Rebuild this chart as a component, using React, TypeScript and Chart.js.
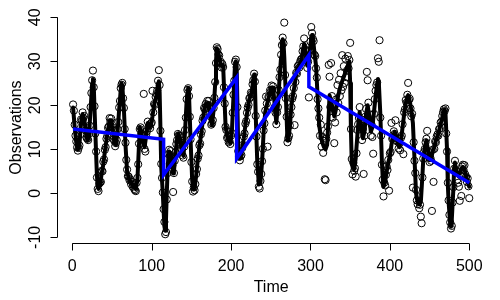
import { useEffect, useRef } from "react";
import { Chart, registerables } from "chart.js";

Chart.register(...registerables);

// Observations, one per time step (Time = 1..500)
const observations: number[] = [
  20.2, 18.8, 15.6, 13.1, 11.8, 10.4, 9.7, 10.3, 10.9, 13.4,
  16.8, 16.5, 18.4, 17.1, 17.6, 15.0, 14.3, 12.6, 12.4, 12.1,
  13.5, 15.4, 19.6, 22.8, 25.7, 27.9, 24.1, 19.8, 13.6, 9.5,
  3.6, 1.0, 0.5, 2.2, 2.5, 2.6, 5.1, 5.0, 7.2, 7.7,
  9.9, 10.5, 12.4, 13.0, 14.9, 15.2, 17.1, 16.2, 17.0, 15.0,
  14.4, 12.3, 11.9, 10.7, 11.4, 12.1, 14.6, 16.2, 19.5, 21.0,
  23.9, 24.7, 25.1, 21.6, 19.4, 14.6, 11.5, 7.6, 5.4, 3.9,
  3.8, 3.0, 3.2, 2.1, 2.6, 1.5, 1.9, 1.0, 0.7, 0.5,
  2.4, 3.5, 6.6, 11.3, 14.6, 15.0, 13.6, 13.1, 11.0, 22.6,
  10.1, 9.5, 13.4, 14.1, 16.3, 15.1, 15.4, 14.8, 15.9, 16.1,
  23.3, 18.4, 20.3, 20.1, 21.9, 22.6, 23.4, 25.6, 28.0, 24.6,
  14.2, 6.7, 3.5, 0.2, -3.6, -6.5, -9.3, -8.8, -1.4, 4.6,
  8.9, 9.9, 8.7, 9.6, 7.1, 6.3, 0.3, 4.6, 7.4, 9.3,
  11.2, 12.1, 13.5, 13.2, 13.1, 11.6, 11.0, 9.9, 8.6, 8.1,
  10.6, 14.4, 17.2, 21.4, 23.5, 23.9, 22.1, 17.4, 12.3, 7.1,
  2.7, 0.4, 1.3, 0.7, 2.1, 4.4, 5.5, 7.9, 8.6, 10.9,
  11.3, 13.4, 14.1, 16.5, 17.2, 19.4, 19.1, 20.3, 19.8, 21.0,
  20.1, 21.0, 18.3, 17.5, 15.6, 15.9, 16.6, 19.4, 21.7, 25.3,
  29.6, 33.2, 32.8, 31.6, 31.3, 29.7, 29.9, 28.6, 29.4, 28.7,
  24.1, 20.4, 15.1, 14.4, 12.6, 12.9, 11.6, 11.9, 11.2, 13.1,
  13.7, 18.3, 22.4, 25.6, 29.9, 30.4, 28.7, 19.6, 9.6, 8.3,
  7.5, 8.4, 8.7, 10.3, 11.0, 12.9, 13.6, 15.8, 16.4, 18.3,
  19.5, 20.1, 21.6, 21.7, 22.9, 22.6, 24.8, 25.7, 27.2, 25.4,
  17.6, 12.9, 6.6, 4.9, 1.5, 1.1, 2.8, 4.4, 7.3, 10.1,
  14.3, 15.9, 18.8, 22.0, 20.4, 10.6, 21.9, 21.8, 23.4, 23.1,
  24.5, 23.6, 24.3, 22.4, 19.6, 18.3, 15.7, 18.4, 19.6, 23.5,
  26.4, 28.1, 31.5, 33.7, 35.4, 34.1, 38.8, 26.9, 21.6, 17.4,
  11.6, 12.5, 13.1, 15.4, 17.9, 19.6, 21.5, 22.1, 23.9, 15.5,
  25.3, 27.4, 27.2, 28.9, 29.1, 28.6, 29.9, 30.4, 30.6, 32.3,
  33.4, 35.2, 32.5, 32.6, 30.1, 28.5, 29.9, 21.8, 32.4, 34.5,
  37.8, 36.4, 35.1, 34.6, 31.5, 31.2, 28.4, 26.3, 21.4, 19.3,
  17.2, 13.1, 15.6, 10.6, 12.8, 9.2, 11.9, 3.2, 3.0, 12.4,
  13.8, 15.2, 29.2, 26.5, 19.6, 29.6, 22.1, 17.2, 20.3, 11.4,
  16.1, 21.3, 18.4, 24.6, 20.5, 25.8, 22.1, 27.3, 23.4, 31.4,
  24.2, 28.9, 25.1, 30.6, 26.4, 27.9, 31.2, 28.4, 30.3, 34.2,
  14.6, 7.8, 4.3, 6.9, 5.1, 5.7, 3.8, 9.1, 14.4, 15.7,
  17.1, 19.6, 15.4, 16.8, 12.1, 14.6, 4.4, 13.1, 17.4, 19.2,
  27.6, 25.7, 20.6, 16.4, 17.9, 13.1, 15.6, 12.8, 9.0, 18.1,
  21.4, 23.3, 24.6, 25.2, 30.7, 29.9, 34.8, 17.2, 13.1, 6.5,
  3.1, -0.7, 2.4, 1.8, 4.2, 6.1, 5.3, 7.6, 0.6, 9.1,
  9.4, 16.0, 12.4, 12.6, 14.1, 13.5, 16.6, 12.1, 11.8, 12.4,
  10.2, 11.3, 9.8, 12.6, 13.1, 15.7, 8.9, 18.4, 19.1, 21.2,
  20.6, 22.4, 25.1, 21.2, 21.5, 19.3, 17.5, 18.1, 1.3, 11.6,
  7.4, 4.6, 0.8, -1.6, -2.5, -0.9, -3.4, -2.6, -5.3, -6.8,
  3.6, 7.9, 9.4, 10.1, 11.6, 12.4, 14.2, 9.6, 8.3, 7.1,
  8.1, 7.4, -4.0, 9.9, 2.6, 10.1, 11.8, 11.6, 12.9, 13.4,
  13.1, 14.6, 14.7, 16.1, 16.3, 17.6, 18.4, 19.1, 18.7, 19.3,
  13.6, 9.5, 2.4, -1.6, -4.9, -6.6, -8.0, -7.4, -2.1, 1.4,
  5.6, 7.4, 5.3, 4.9, 3.1, 2.4, 1.5, -1.7, 4.1, -0.6,
  6.1, 6.5, 5.2, 6.4, 4.3, 3.7, 2.6, 3.4, 1.6, -1.1,
];

// Fitted signal (thick black line), read at key times
const fitTime: number[] = [
  1, 3, 5, 7, 9, 11, 13, 15, 17, 19, 21, 23, 25, 26, 27, 29, 31, 32, 33, 35, 37, 39, 41, 43, 45, 47, 49, 51, 53, 55,
  57, 59, 61, 62, 63, 65, 67, 69, 71, 74, 77, 80, 82, 84, 85, 87, 89, 91, 93, 95, 97, 99, 101, 103, 105, 107, 108, 109, 110, 111,
  112, 114, 115, 116, 117, 118, 119, 120, 121, 122, 124, 126, 127, 128, 130, 132, 134, 136, 138, 140, 142, 144, 146, 147, 149, 151, 152, 154, 156, 158,
  160, 162, 164, 166, 168, 170, 172, 174, 176, 178, 180, 181, 182, 184, 186, 188, 190, 192, 193, 195, 197, 199, 201, 203, 205, 206, 207, 208, 209, 210,
  212, 214, 216, 218, 220, 222, 224, 226, 228, 229, 230, 231, 233, 235, 237, 239, 241, 243, 245, 247, 249, 251, 253, 255, 257, 259, 261, 263, 264, 265,
  266, 267, 269, 271, 272, 274, 276, 278, 280, 282, 284, 286, 288, 290, 292, 294, 296, 298, 300, 302, 303, 305, 307, 309, 311, 313, 315, 317, 319, 321,
  323, 324, 326, 328, 330, 332, 334, 336, 338, 340, 342, 344, 346, 348, 349, 350, 351, 352, 353, 355, 357, 359, 361, 362, 364, 366, 368, 370, 372, 374,
  376, 378, 380, 382, 384, 385, 386, 388, 390, 391, 392, 394, 396, 398, 400, 402, 404, 406, 408, 410, 412, 414, 416, 418, 420, 422, 423, 425, 427, 429,
  431, 433, 435, 437, 439, 441, 442, 444, 446, 448, 450, 452, 454, 456, 457, 459, 461, 463, 465, 467, 469, 470, 472, 473, 474, 476, 477, 478, 480, 481,
  482, 484, 486, 488, 490, 492, 494, 496, 498, 500,
];
const fitValue: number[] = [
  19.5, 15, 11.5, 10, 11, 16, 18, 17, 14, 12, 13, 19, 25, 26, 24.5, 14, 4, 1.5, 1, 2, 4.5, 6.5, 9.5, 12, 14.5, 16.5, 16.5, 14, 11.5, 11,
  14, 19, 23.5, 25, 24.5, 19, 11, 5, 3.5, 2.5, 1.5, 1, 3, 11, 15, 14, 11.5, 10.5, 13, 16, 15, 15.5, 17.5, 20, 21.5, 23, 25, 25.5, 23, 15,
  6, 0, -4, -7.5, -8.5, -6, 0, 5, 8.5, 9.5, 9, 6, 4.5, 5, 9, 12.5, 13.5, 12, 9.5, 8.5, 14, 21, 24, 22.5, 12, 3, 1, 1, 4, 7.5,
  10.5, 13, 16, 19, 20, 20.5, 20.5, 17, 15.5, 19, 25, 30, 33, 32, 30, 29, 29, 20, 15.5, 13, 12, 11.5, 14, 22, 29.5, 30, 29, 20, 10, 8,
  8, 10, 12.5, 15.5, 18, 20.5, 22, 23, 26, 27, 25, 18, 7, 2, 2.5, 7, 14, 18.5, 20, 21.5, 23, 24, 24, 20, 16, 20, 26, 31, 34, 35,
  34.5, 31, 22, 12, 12, 15, 20, 22.5, 24.5, 27, 28.5, 29, 30, 32, 34, 32, 29, 30, 34, 36, 35.5, 32, 29, 22, 15.5, 13, 11.5, 10.5, 10, 11,
  18, 22.3, 21, 19, 17.5, 19, 21.5, 23, 24.5, 25.5, 26.5, 27.5, 28.5, 29.5, 30, 25, 14, 7, 6, 5.5, 8, 13, 17.5, 18.5, 15, 12.5, 14, 18, 20, 17.5,
  14, 15, 18.5, 22, 25, 26, 25.5, 18, 7, 3.5, 1.5, 2.5, 5, 7, 8.5, 11, 13, 14, 13, 11.5, 10.5, 12, 15, 18, 20.5, 22, 22.3, 21, 19, 16,
  8, 0, -2, -2.5, -2, 4, 7.5, 10.5, 12, 10, 7.5, 8, 9.5, 10.5, 11.4, 12.5, 13.5, 15, 16.5, 18, 19, 18.5, 10, 2, -2, -7, -7.6, -6, 1, 6,
  7, 4.6, 4, 4.6, 5.5, 6, 5.5, 4, 2.5, 1.5,
];

// Piecewise linear trend (blue line)
const trendTime: number[] = [1, 115, 115, 207, 207, 298, 298, 500];
const trendValue: number[] = [14.6, 12.3, 4.2, 26.3, 7.9, 31.4, 24.2, 2.4];

const xTicks: number[] = [0, 100, 200, 300, 400, 500];
const yTicks: number[] = [-10, 0, 10, 20, 30, 40];
const xTitle = "Time";
const yTitle = "Observations";

const FONT = '16px "Liberation Sans", Arial, Helvetica, sans-serif';

const rAxesPlugin = {
  id: "rAxes",
  afterDraw(chart: any) {
    const { ctx, chartArea, scales } = chart;
    const xs = scales.x;
    const ys = scales.y;
    ctx.save();
    ctx.strokeStyle = "#000";
    ctx.fillStyle = "#000";
    ctx.lineWidth = 1;

    // x axis
    const yb = Math.round(chartArea.bottom) + 0.5;
    ctx.beginPath();
    ctx.moveTo(xs.getPixelForValue(xTicks[0]), yb);
    ctx.lineTo(xs.getPixelForValue(xTicks[xTicks.length - 1]), yb);
    xTicks.forEach((t) => {
      const px = Math.round(xs.getPixelForValue(t)) + 0.5;
      ctx.moveTo(px, yb);
      ctx.lineTo(px, yb + 7);
    });
    ctx.stroke();
    ctx.font = FONT;
    ctx.textAlign = "center";
    ctx.textBaseline = "alphabetic";
    xTicks.forEach((t) => {
      ctx.fillText(String(t), xs.getPixelForValue(t), 270.5);
    });
    ctx.fillText(xTitle, (chartArea.left + chartArea.right) / 2, 291.5);

    // y axis
    const xl = Math.round(chartArea.left) + 0.5;
    ctx.beginPath();
    ctx.moveTo(xl, ys.getPixelForValue(yTicks[0]));
    ctx.lineTo(xl, ys.getPixelForValue(yTicks[yTicks.length - 1]));
    yTicks.forEach((v) => {
      const py = Math.round(ys.getPixelForValue(v)) + 0.5;
      ctx.moveTo(xl, py);
      ctx.lineTo(xl - 7, py);
    });
    ctx.stroke();
    yTicks.forEach((v) => {
      ctx.save();
      ctx.translate(40, ys.getPixelForValue(v));
      ctx.rotate(-Math.PI / 2);
      ctx.fillText(String(v), 0, 0);
      ctx.restore();
    });
    ctx.save();
    ctx.translate(21, (chartArea.top + chartArea.bottom) / 2);
    ctx.rotate(-Math.PI / 2);
    ctx.fillText(yTitle, 0, 0);
    ctx.restore();

    ctx.restore();
  },
};

export default function App() {
  const canvasRef = useRef<HTMLCanvasElement | null>(null);

  useEffect(() => {
    document.body.style.margin = "0";
    const canvas = canvasRef.current;
    if (!canvas) return;

    const obsPoints = observations.map((v, i) => ({ x: i + 1, y: v }));
    const fitPoints = fitTime.map((t, i) => ({ x: t, y: fitValue[i] }));
    const trendPoints = trendTime.map((t, i) => ({ x: t, y: trendValue[i] }));

    const chart = new Chart(canvas, {
      type: "scatter",
      data: {
        datasets: [
          {
            label: "Trend",
            data: trendPoints,
            showLine: true,
            borderColor: "#0000FF",
            borderWidth: 3.5,
            pointRadius: 0,
            tension: 0,
            order: 1,
          },
          {
            label: "Fit",
            data: fitPoints,
            showLine: true,
            borderColor: "#000000",
            borderWidth: 4,
            borderJoinStyle: "round",
            borderCapStyle: "round",
            pointRadius: 0,
            tension: 0,
            order: 2,
          },
          {
            label: "Observations",
            data: obsPoints,
            showLine: false,
            pointStyle: "circle",
            pointRadius: 3.6,
            borderWidth: 1,
            borderColor: "#000000",
            backgroundColor: "rgba(0,0,0,0)",
            order: 3,
          },
        ],
      },
      options: {
        responsive: false,
        animation: false,
        layout: { padding: { left: 57.25, right: 14.9, top: 12.5, bottom: 57.4 } },
        scales: {
          x: { type: "linear", min: -18.96, max: 519.96, display: false },
          y: { type: "linear", min: -11.2, max: 41.1, display: false },
        },
        plugins: {
          legend: { display: false },
          tooltip: { enabled: false },
        },
      },
      plugins: [rAxesPlugin],
    } as any);

    return () => chart.destroy();
  }, []);

  return (
    <div style={{ width: 500, height: 300, background: "#fff" }}>
      <canvas ref={canvasRef} width={500} height={300} style={{ width: 500, height: 300, display: "block" }} />
    </div>
  );
}
